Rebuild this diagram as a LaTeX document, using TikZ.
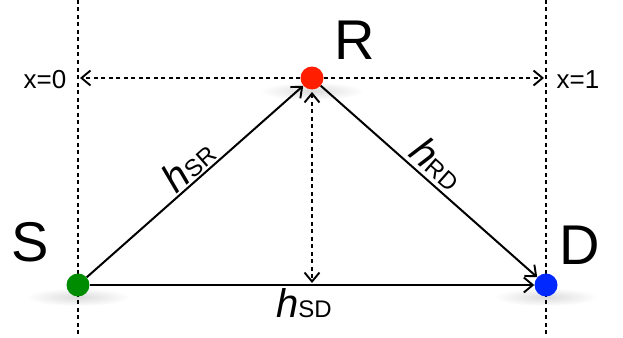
\documentclass[tikz,border=0pt]{standalone}
\usepackage{fontspec}
\setmainfont{Liberation Sans}
\usetikzlibrary{arrows.meta}
\definecolor{cgreen}{RGB}{0,140,0}
\definecolor{cred}{RGB}{255,30,0}
\definecolor{cblue}{RGB}{0,40,255}
\newcommand{\hlab}[1]{{\fontsize{40}{40}\selectfont\itshape h}{\fontsize{24}{24}\selectfont #1}}
\tikzset{
  dot/.style={circle,minimum size=23pt,inner sep=0pt,fill=#1},
  dotline/.style={line width=1.9pt,dash pattern=on 4pt off 3.5pt},
  link/.style={line width=2pt},
  barb/.tip={Straight Barb[length=9pt,width=15pt,line width=1.9pt]},
  tip/.style={-barb},
  shadow/.style={inner color=gray!28,outer color=white},
  bigtxt/.style={font=\fontsize{56}{56}\selectfont,inner sep=0pt},
  xtxt/.style={font=\fontsize{26}{26}\selectfont,inner sep=0pt},
  hl/.style={inner sep=0pt}
}
\begin{document}
\begin{tikzpicture}[x=1pt,y=-1pt]
\useasboundingbox (0,0) rectangle (623,337);
% shadows
\shade[shadow] (78,297) ellipse (52 and 9);
\shade[shadow] (312,91) ellipse (52 and 9);
\shade[shadow] (546,297) ellipse (52 and 9);
% vertical dotted lines
\coordinate (LT) at (78,0); \coordinate (LB) at (78,337);
\coordinate (RT) at (546,0); \coordinate (RB) at (546,337);
\draw[dotline] (LT) -- (LB);
\draw[dotline] (RT) -- (RB);
% nodes
\node[dot=cgreen] (S) at (78,285) {};
\node[dot=cred] (R) at (312,78) {};
\node[dot=cblue] (D) at (546,285) {};
% horizontal dotted arrows
\coordinate (HL) at (80,78); \coordinate (HR) at (544,78);
\draw[dotline,-barb] (R.west) -- (HL);
\draw[dotline,-barb] (R.east) -- (HR);
% vertical dotted double arrow
\coordinate (VT) at (312,92); \coordinate (VB) at (312,283);
\draw[dotline,barb-barb] (VT) -- (VB);
% links
\draw[link,tip] (S) -- (R);
\draw[link,tip] (R) -- (D);
\draw[link,tip] (S) -- (D);
% labels
\node[bigtxt] (Rl) at (355,40) {R};
\node[bigtxt] (Sl) at (30,242) {S};
\node[bigtxt] (Dl) at (580,245) {D};
\node[xtxt] (x0) at (45,80) {x=0};
\node[xtxt] (x1) at (578,80) {x=1};
\node[hl,rotate=41.5] (hsr) at (188,165) {\hlab{SR}};
\node[hl,rotate=-41.5] (hrd) at (438,163) {\hlab{RD}};
\node[hl] (hsd) at (304,303) {\hlab{SD}};
\end{tikzpicture}
\end{document}
